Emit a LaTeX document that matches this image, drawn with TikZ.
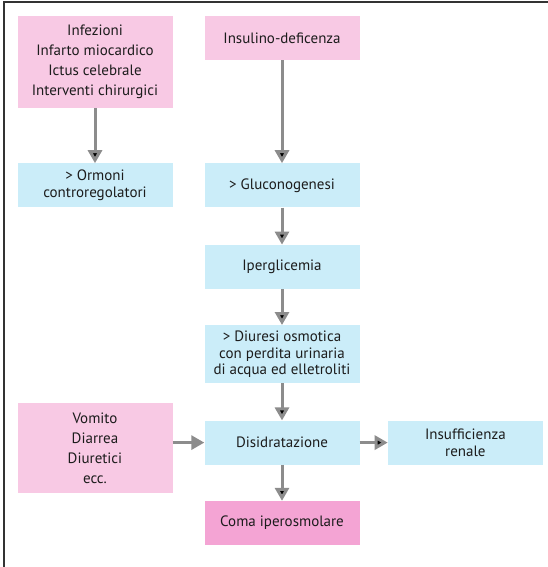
\documentclass[tikz,border=0pt]{standalone}
\usepackage{fontspec}
\setmainfont{PT Sans}
\usepackage{tikz}
\usetikzlibrary{arrows.meta, positioning}

\definecolor{rosa}{HTML}{F8C9E4}
\definecolor{azzurro}{HTML}{CBEDF9}
\definecolor{magenta}{HTML}{F4A4D4}
\definecolor{grigio}{HTML}{8C8C8C}
\definecolor{testo}{HTML}{1C1C1C}

\tikzset{
	box/.style={rectangle, minimum width=155pt, minimum height=44pt, inner sep=0pt,
		align=center, text=testo, font=\fontsize{15}{16.5}\selectfont},
	cause/.style={box, fill=rosa, font=\fontsize{15}{20}\selectfont},
	passo/.style={box, fill=azzurro},
	esito/.style={box, fill=magenta},
	collega/.style={-{Triangle[length=13pt, width=14pt]}, draw=grigio, line width=3pt},
}

\begin{document}
\begin{tikzpicture}[x=1pt, y=-1pt, node distance=36pt]
		\useasboundingbox (0,0) rectangle (548,567);
		\draw [line width=1.4pt, draw=black!80] (4,567) -- (4,2) -- (548,2);

		\node (inf) [cause, minimum height=92pt] at (95,62) {Infezioni\\Infarto miocardico\\Ictus celebrale\\Interventi chirurgici};
		\node (ins) [cause] at (282,38) {Insulino-deficenza};
		\node (orm) [passo, below = 55pt of inf] {> Ormoni\\controregolatori};
		\node (glu) [passo, below = 103pt of ins] {> Gluconogenesi};
		\node (ipe) [passo, below = 37pt of glu] {Iperglicemia};
		\node (diu) [passo, minimum height=58pt, below = of ipe] {> Diuresi osmotica\\con perdita urinaria\\di acqua ed elletroliti};
		\node (dis) [passo, below = 37pt of diu] {Disidratazione};
		\node (com) [esito, below = of dis] {Coma iperosmolare};
		\node (ren) [passo, right = 28pt of dis] {Insufficienza\\renale};
		\node (vom) [cause, minimum height=90pt] at (95,448) {Vomito\\Diarrea\\Diuretici\\ecc.};
		\coordinate (vomout) at (vom.east |- dis);

		\draw [collega] (vomout) -- (dis);
		\path [collega]
		(inf) edge (orm)
		(ins) edge (glu)
		(glu) edge (ipe)
		(ipe) edge (diu)
		(diu) edge (dis)
		(dis) edge (com)
		(dis) edge (ren)
		;
	\end{tikzpicture}
\end{document}
